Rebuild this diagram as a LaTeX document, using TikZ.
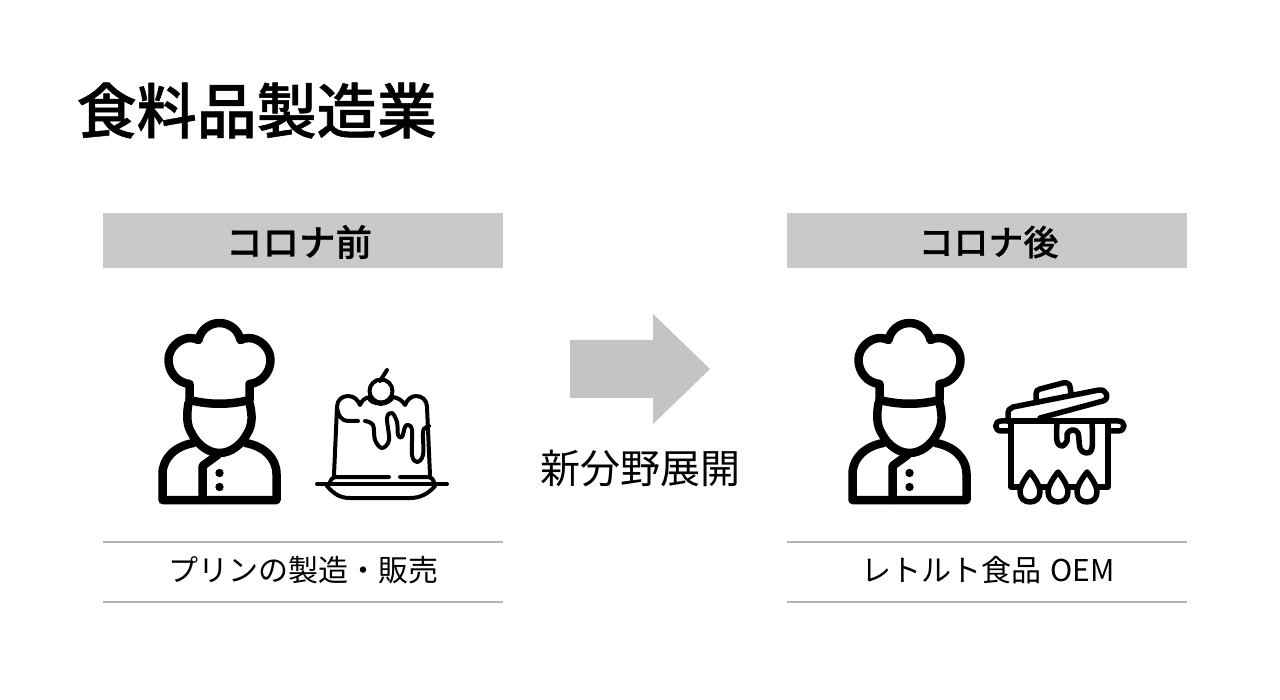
\documentclass[tikz,border=0pt]{standalone}
\usepackage{fontspec}
\setmainfont{Noto Sans CJK JP}
\newfontfamily\headfont[FakeBold=0.6]{Noto Sans CJK JP Medium}
\newfontfamily\titlefont[FakeBold=0.9]{Noto Sans CJK JP Medium}
\definecolor{headgray}{HTML}{C9C9C9}
\definecolor{arrowgray}{HTML}{C4C4C4}
\definecolor{rulegray}{HTML}{B4B4B4}
\tikzset{
  headbox/.style={fill=headgray,minimum width=400,minimum height=55,inner sep=0},
  headtext/.style={inner sep=0,font=\fontsize{36.5}{37}\selectfont\headfont},
  labelbox/.style={minimum width=400,minimum height=60,inner sep=0},
  labeltext/.style={inner sep=0,font=\fontsize{30}{30}\selectfont},
  rule/.style={rulegray,line width=1.5},
  chef/.pic={
    \begin{scope}[line width=8.5,line join=round,line cap=round]
      \draw (50,100) -- (50,84) .. controls (38,83) and (29,72) .. (29,60)
        .. controls (29,48) and (40,38) .. (51,38) .. controls (54,38) and (57,39) .. (59,40)
        .. controls (61,30) and (70,23) .. (80,23) .. controls (90,23) and (99,30) .. (101,40)
        .. controls (103,39) and (106,38) .. (109,38) .. controls (120,38) and (131,48) .. (131,60)
        .. controls (131,72) and (122,83) .. (110,84) -- (110,100);
      \draw (50,100) .. controls (70,105) and (90,105) .. (110,100);
      \draw (49,103) .. controls (47,115) and (47,125) .. (52,133)
        .. controls (58,145) and (69,153) .. (80,153) .. controls (91,153) and (102,145) .. (108,133)
        .. controls (113,125) and (113,115) .. (110,103);
      \draw (54,143) .. controls (36,146) and (23,158) .. (23,174) -- (23,200) -- (137,200) -- (137,174)
        .. controls (137,158) and (124,146) .. (106,143);
      \draw (63,200) -- (63,166) -- (78,155);
    \end{scope}
    \fill (80,173) circle (4.2);
    \fill (80,187) circle (4.2);
  },
  pudding/.pic={
    \begin{scope}[line width=4,line join=round,line cap=round]
      \draw (7,124) -- (137,124);
      \draw (17,126) .. controls (24,134) and (30,138) .. (40,138) -- (100,138)
        .. controls (110,138) and (118,134) .. (125,126);
      \draw (20,122) .. controls (21,120) and (22,117) .. (25,117) -- (79,117);
      \draw (90,117) -- (119,117) .. controls (122,117) and (123,120) .. (124,122);
      \draw (24,115) -- (27,47) .. controls (27,40) and (32,36) .. (38,36)
        .. controls (44,36) and (48,40) .. (50,45) .. controls (52,40) and (55,38) .. (60,37);
      \draw (60,40) .. controls (63,43) and (67,43) .. (71,44) .. controls (75,43) and (79,43) .. (83,37)
        .. controls (88,38) and (92,40) .. (95,45) .. controls (97,40) and (101,36) .. (106,36)
        .. controls (112,36) and (117,40) .. (117,47) -- (120,115);
      \draw (71,31) circle (11.5);
      \draw (70,21) -- (77,10);
      \draw (27,47) .. controls (28,56) and (32,61) .. (38,61) -- (48,61);
      \draw plot[smooth,tension=0.6] coordinates {(55,61) (63,65) (65,80) (72,88) (79,80) (77,58) (82,53) (87,62) (88,75) (92,77) (95,67) (98,65) (102,70) (102,95) (107,102) (113,95) (113,73) (115,68) (119,66)};
    \end{scope}
  },
  flame/.pic={
    \draw[fill=white,line width=5.5,line join=round] (0,0) .. controls (3,4) and (10,13) .. (10,20)
      .. controls (10,26) and (6,30) .. (0,30) .. controls (-6,30) and (-10,26) .. (-10,20)
      .. controls (-10,13) and (-3,4) .. (0,0) -- cycle;
  },
  pot/.pic={
    \begin{scope}[line width=5.5,line join=round,line cap=round]
      \draw (31,51) -- (21,51) .. controls (14,51) and (14,61) .. (21,61) -- (31,61);
      \draw (128,51) -- (138,51) .. controls (146,51) and (146,61) .. (138,61) -- (128,61);
      \draw (28,51) -- (128,51);
      \draw (31,51) -- (31,117) -- (128,117) -- (128,51);
      \draw (28,51) -- (28,44) .. controls (28,40) and (30,38) .. (33,37) -- (119,20)
        .. controls (127,19) and (130,29) .. (123,31) -- (60,48);
      \draw (56,31) -- (56,24) .. controls (56,21) and (57,20) .. (60,19) -- (83,13)
        .. controls (87,12) and (90,14) .. (90,17) -- (91,23);
      \draw plot[smooth,tension=0.6] coordinates {(77,52) (77,71) (82,76) (87,71) (87,64) (92,60) (98,63) (100,78) (106,83) (112,78) (112,52)};
    \end{scope}
    \pic at (50,102) {flame};
    \pic at (78,102) {flame};
    \pic at (107,102) {flame};
  },
}
\begin{document}
\begin{tikzpicture}[x=1pt,y=-1pt]
  \useasboundingbox (0,0) rectangle (1280,700);
  \node[anchor=west,inner sep=0,font=\fontsize{60}{60}\selectfont\titlefont] (title) at (76.5,110.5) {食料品製造業};
  \node[headbox] (headA) at (303,240.5) {};
  \node[headbox] (headB) at (987,240.5) {};
  \node[headtext] (textA) at (299,242) {コロナ前};
  \node[headtext,font=\fontsize{35}{35}\selectfont\headfont] (textB) at (988.5,242) {コロナ後};
  \pic (chefA) at (139.5,300) {chef};
  \pic (chefB) at (829.5,300) {chef};
  \pic (puddingA) at (310,360) {pudding};
  \pic (potB) at (980,370) {pot};
  \fill[arrowgray] (570,340) -- (653,340) -- (653,314) -- (710,369) -- (653,424) -- (653,398) -- (570,398) -- cycle;
  \node[inner sep=0,font=\fontsize{40}{40}\selectfont] (shift) at (640,468) {新分野展開};
  \node[labelbox] (labelA) at (303,572) {};
  \node[labelbox] (labelB) at (987,572) {};
  \node[labeltext] (nameA) at (303.5,570) {プリンの製造・販売};
  \node[labeltext] (nameB) at (988,570) {レトルト食品\hspace{3pt} OEM};
  \draw[rule] (labelA.north west) -- (labelA.north east);
  \draw[rule] (labelA.south west) -- (labelA.south east);
  \draw[rule] (labelB.north west) -- (labelB.north east);
  \draw[rule] (labelB.south west) -- (labelB.south east);
\end{tikzpicture}
\end{document}
